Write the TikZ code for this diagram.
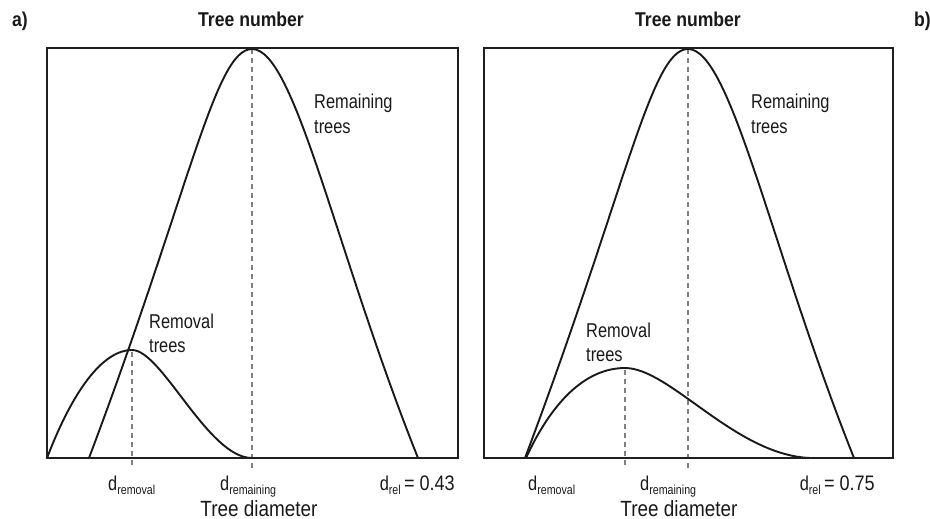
\documentclass[tikz,border=0pt]{standalone}
\usepackage{fontspec}
\setmainfont{Liberation Sans}[FakeStretch=0.82]
\newfontfamily\ttlfont{Liberation Sans}[FakeStretch=0.88]
\newfontfamily\axfont{Liberation Sans}[FakeStretch=0.86]
\newcommand{\dsub}[1]{d\raisebox{-0.4ex}{\fontsize{13}{13}\selectfont #1}}
\begin{document}
\begin{tikzpicture}[x=1pt,y=-1pt,
  frame/.style={line width=2.4pt, draw=black!88},
  curve/.style={line width=1.9pt, draw=black!90},
  guide/.style={draw=gray, line width=1.1pt, dash pattern=on 5pt off 4pt},
  lbl/.style={font=\fontsize{20}{20}\selectfont, inner sep=0pt, text=black!90},
  ttl/.style={font=\fontsize{20}{20}\selectfont\ttlfont\bfseries, inner sep=0pt, text=black!90},
  axl/.style={font=\fontsize{22}{22}\selectfont\axfont, inner sep=0pt, text=black!90}]
\useasboundingbox (0,0) rectangle (930,519);
% ---------- panel a ----------
\coordinate (aRemTop) at (252,49);
\coordinate (aRemBot) at (252,468);
\coordinate (aRmvTop) at (132,352);
\coordinate (aRmvBot) at (132,468);
\draw[guide] (aRemTop) -- (aRemBot);
\draw[guide] (aRmvTop) -- (aRmvBot);
\draw[curve] (89,458) .. controls (190,190) and (215,49) .. (252,49)
             .. controls (295,49) and (335,250) .. (418,458);
\draw[curve] (47,458) .. controls (75,385) and (105,350) .. (132,350)
             .. controls (162,350) and (208,458) .. (252,458);
\draw[frame] (47,48) rectangle (458,458);
% ---------- panel b ----------
\coordinate (bRemTop) at (688,49);
\coordinate (bRemBot) at (688,468);
\coordinate (bRmvTop) at (625,370);
\coordinate (bRmvBot) at (625,468);
\draw[guide] (bRemTop) -- (bRemBot);
\draw[guide] (bRmvTop) -- (bRmvBot);
\draw[curve] (525,458) .. controls (626,190) and (651,49) .. (688,49)
             .. controls (731,49) and (771,250) .. (854,458);
\draw[curve] (526,458) .. controls (555,395) and (590,368) .. (625,368)
             .. controls (670,368) and (735,455) .. (810,458);
\draw[frame] (484,48) rectangle (893,458);
% ---------- titles ----------
\node[ttl, anchor=base west] (la) at (12,27) {a)};
\node[ttl, anchor=base] (ta) at (251,27) {Tree number};
\node[ttl, anchor=base] (tb) at (688,27) {Tree number};
\node[ttl, anchor=base west] (lb) at (914,27) {b)};
% ---------- curve labels ----------
\node[lbl, anchor=base west] (aRem1) at (314,109) {Remaining};
\node[lbl, anchor=base west] (aRem2) at (314,133) {trees};
\node[lbl, anchor=base west] (aRmv1) at (149,328) {Removal};
\node[lbl, anchor=base west] (aRmv2) at (149,352) {trees};
\node[lbl, anchor=base west] (bRem1) at (751,109) {Remaining};
\node[lbl, anchor=base west] (bRem2) at (751,133) {trees};
\node[lbl, anchor=base west] (bRmv1) at (586,337) {Removal};
\node[lbl, anchor=base west] (bRmv2) at (586,361) {trees};
% ---------- axis labels ----------
\node[lbl, anchor=base west] (adr) at (108,490) {\dsub{removal}};
\node[lbl, anchor=base west] (adm) at (220,490) {\dsub{remaining}};
\node[lbl, anchor=base east] (adl) at (455,490) {\dsub{rel}\,{\fontsize{21}{21}\selectfont\axfont= 0.43}};
\node[axl, anchor=base] (axa) at (259,516) {Tree diameter};
\node[lbl, anchor=base west] (bdr) at (528,490) {\dsub{removal}};
\node[lbl, anchor=base west] (bdm) at (640,490) {\dsub{remaining}};
\node[lbl, anchor=base east] (bdl) at (875,490) {\dsub{rel}\,{\fontsize{21}{21}\selectfont\axfont= 0.75}};
\node[axl, anchor=base] (axb) at (679,516) {Tree diameter};
\end{tikzpicture}
\end{document}
